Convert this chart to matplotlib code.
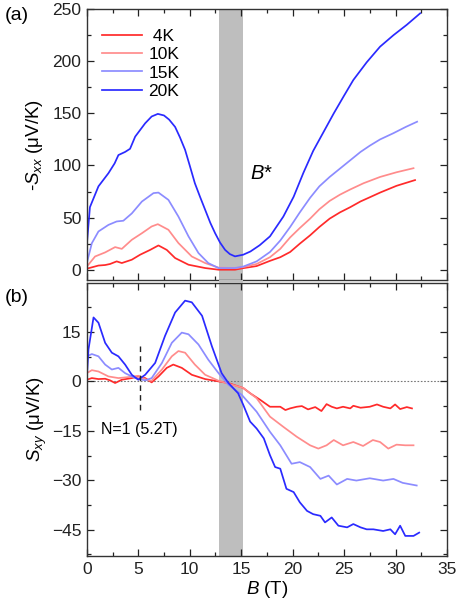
import matplotlib as mpl
mpl.use('Agg')
import matplotlib.pyplot as plt
from matplotlib.patches import Rectangle
from matplotlib.ticker import MultipleLocator

plt.rcParams['font.family'] = ['Liberation Sans', 'DejaVu Sans']
plt.rcParams['mathtext.fontset'] = 'custom'
plt.rcParams['mathtext.rm'] = 'Liberation Sans'
plt.rcParams['mathtext.it'] = 'Liberation Sans:italic'

labels = [' 4K', '10K', '15K', '20K']
colors = ['#ff2a2a', '#ff8c8c', '#8c8cff', '#2a2aff']

# (a) -Sxx
b_xx_4 = [0, 1.13, 1.78, 2.26, 2.9, 3.4, 4.37, 5.18, 6.15, 6.96, 7.77, 8.58, 9.88, 11.5, 12.8, 14.4,
          15.2, 16.5, 17.8, 18.8, 19.76, 20.7, 21.7, 22.6, 23.6, 24.6, 25.6, 26.6, 27.5, 28.5, 30.1, 31.9]
sxx_4 = [1, 4, 4.5, 5.5, 8, 6.4, 9.6, 14.4, 19, 23.3, 19, 11.2, 4.8, 1.6, 0, 0,
         1.5, 3.5, 8.5, 12, 17, 25, 33, 41, 49, 55, 60, 65.5, 69.5, 74, 80.5, 86]
b_xx_10 = [0, 0.8, 1.78, 2.75, 3.4, 4.37, 5.35, 6.3, 6.9, 7.93, 8.9, 10.2, 11.5, 12.8, 14.4,
           15.2, 16.5, 17.8, 18.8, 19.76, 20.7, 21.7, 22.6, 23.6, 24.6, 25.6, 26.9, 28.5, 30.1, 31.75]
sxx_10 = [3, 12.7, 16.6, 21.7, 20, 28.7, 35, 41.5, 43.7, 38.3, 25.6, 12.7, 6.4, 2, 1.6,
          2.5, 5.5, 12, 20, 31, 40, 49, 58, 66, 72, 77, 83, 89, 93.5, 97.4]
b_xx_15 = [0, 0.49, 1.13, 2.1, 2.9, 3.55, 4.37, 5.35, 6.48, 6.96, 7.93, 8.9, 9.88, 10.85, 11.8, 12.8, 14.4,
           15.2, 16.5, 17.8, 18.8, 19.76, 20.7, 21.7, 22.6, 23.6, 24.6, 25.6, 26.6, 27.5, 28.5, 29.8,
           31.0, 32.1]
sxx_15 = [6.4, 25.5, 36.7, 43, 46.3, 47, 54, 65.4, 73.5, 74, 67, 51, 32, 16, 6.4, 1.6, 1.6,
          3, 8, 17, 28, 41, 55, 69, 80, 89, 97, 105, 113, 119, 125, 131,
          137, 142]
b_xx_20 = [0, 0.3, 1.13, 2.1, 2.7, 3.07, 3.72, 4.2, 4.7, 5.67, 6.3, 6.9, 7.5, 8.0, 8.58, 9.05, 9.55,
           10.0, 10.5, 11.0, 11.5, 12.0, 12.47, 12.95, 13.44, 13.9, 14.4, 15.2, 15.9, 16.8, 17.8,
           19.1, 20.1, 21.05, 22.0, 23.0, 24.0, 25.0, 25.9, 27.2, 28.5, 29.8, 31.1, 32.4]
sxx_20 = [24, 60, 80, 92.6, 102, 110, 113, 116, 127.7, 140.5, 147, 149.5, 148, 144, 137, 127, 115,
          100, 83, 70, 57.5, 45, 35, 26, 19, 15, 12.8, 14.4, 17.5, 23.5, 32,
          51, 70, 93, 114, 132, 150, 167, 182, 199, 214, 225, 235, 246]

# (b) Sxy
b_xy_4 = [0, 0.49, 1.13, 1.78, 2.26, 2.75, 3.4, 4.37, 5.0, 5.67, 6.3, 6.97, 7.77, 8.4, 9.23, 10.2, 11.5,
          12.8, 13.76, 14.7, 15.2, 15.87, 16.85, 17.8, 18.8, 19.3, 19.75, 20.4, 20.9, 21.5, 22.2, 22.8,
          23.3, 23.8, 24.3, 24.9, 25.6, 25.9, 26.6, 27.5, 28.2, 28.8, 29.5, 29.96, 30.45, 31.1, 31.6]
sxy_4 = [0.5, 1, 0.7, 0.8, 0.3, -0.5, 0.5, 1, 1.5, 1, -0.3, 1.5, 4.1, 5.1, 4.1, 2, 0.7,
         0, -0.5, -1.5, -2, -3.6, -5.6, -7.7, -7.7, -8.7, -8.2, -7.7, -7.5, -8.5, -7.8, -9.0,
         -6.9, -7.7, -8.2, -7.7, -8.2, -7.4, -8.0, -7.7, -7.0, -7.7, -8.2, -7.0, -8.4, -7.8, -8.2]
b_xy_10 = [0, 0.49, 1.13, 2.1, 3.07, 4.05, 5.0, 5.8, 6.3, 7.3, 8.26, 8.9, 9.55, 10.5, 11.5, 12.8, 14.1,
           15.2, 16.5, 17.8, 19.1, 20.4, 21.7, 22.5, 23.3, 24.0, 24.9, 25.9, 26.85, 27.8, 28.5, 29.3,
           30.1, 30.95, 31.75]
sxy_10 = [2.5, 3.4, 3, 1.5, 1, 1.3, 1.7, 0.5, 0.2, 3.6, 7.6, 9.2, 8.7, 5.1, 2, 0.2, -1,
          -2, -5.1, -10.7, -13.8, -16.8, -19.4, -20.4, -19.4, -17.8, -19.4, -18.4, -19.6, -17.8, -18.4, -20.4,
          -19.2, -19.4, -19.4]
b_xy_15 = [0, 0.49, 1.13, 1.78, 2.43, 3.07, 3.72, 4.7, 5.67, 6.3, 7.3, 8.26, 9.23, 9.88, 10.85, 11.8,
           12.8, 13.76, 15.06, 16.5, 17.8, 18.8, 19.9, 20.7, 21.7, 22.7, 23.5, 24.3, 25.3, 26.2,
           27.5, 28.8, 29.8, 30.7, 32.06]
sxy_15 = [7.6, 8.3, 7.6, 5.1, 3.6, 4.1, 2.5, 1, 0.3, 1, 5.6, 11.7, 14.8, 14.3, 11.2, 6.6,
          2.5, -1, -4.1, -9.2, -15.3, -19.4, -25, -24.5, -26, -29.6, -28.6, -31.3, -29.6, -30.1,
          -29.4, -30.1, -29.6, -30.8, -31.6]
b_xy_20 = [0, 0.16, 0.65, 1.13, 1.78, 2.43, 3.07, 3.72, 4.37, 5.0, 5.67, 6.64, 7.6, 8.58, 9.55, 10.2,
           11.2, 12.15, 13.1, 13.76, 14.7, 15.2, 15.87, 16.5, 17.2, 17.8, 18.3, 18.8, 19.4, 20.1, 20.7,
           21.4, 22.0, 22.7, 23.15, 23.8, 24.45, 25.3, 25.9, 26.6, 27.2, 27.85, 28.8, 29.5, 29.96,
           30.45, 30.95, 31.75, 32.3]
sxy_20 = [1, 9.7, 19.4, 17.8, 11.7, 8.7, 7.6, 5.1, 2, 0.5, 2, 5.6, 13.8, 20.9, 24.5, 24,
          19.9, 10.7, 2.5, -0.5, -3.6, -7.1, -12.2, -14.3, -17.3, -22.4, -26, -26.5, -32.6, -33.6, -36.7,
          -39.3, -40.3, -40.8, -42.8, -41.3, -43.8, -44.3, -43.3, -44.3, -44.9, -44.9, -45.4, -44.9, -46.4,
          -43.8, -46.9, -46.9, -45.9]

band = (12.85, 15.2)
band_color = '#bebebe'

fig = plt.figure(figsize=(4.57, 6.09), dpi=100)
ax1 = fig.add_axes([0.190, 0.540, 0.788, 0.445])
ax2 = fig.add_axes([0.190, 0.087, 0.788, 0.448])

xx = [(b_xx_4, sxx_4), (b_xx_10, sxx_10), (b_xx_15, sxx_15), (b_xx_20, sxx_20)]
xy = [(b_xy_4, sxy_4), (b_xy_10, sxy_10), (b_xy_15, sxy_15), (b_xy_20, sxy_20)]

for (b, s), c, lab in zip(xx, colors, labels):
    ax1.plot(b, s, color=c, lw=1.25, label=lab)
for (b, s), c in zip(xy, colors):
    ax2.plot(b, s, color=c, lw=1.25)

for ax in (ax1, ax2):
    ax.axvspan(band[0], band[1], color=band_color, lw=0, zorder=0)
    ax.set_xlim(0, 35)
    ax.xaxis.set_major_locator(MultipleLocator(5))
    ax.xaxis.set_minor_locator(MultipleLocator(2.5))
    ax.tick_params(which='both', direction='in', top=True, right=True, labelsize=12.5,
                   colors='#222222', pad=4)
    ax.tick_params(which='major', length=5, width=0.9)
    ax.tick_params(which='minor', length=3, width=0.9)
    for sp in ax.spines.values():
        sp.set_color('#333333')
        sp.set_linewidth(1.0)

# bridge the band across the gap between the panels
p1, p2 = ax1.get_position(), ax2.get_position()
fx0 = p1.x0 + p1.width * band[0] / 35
fx1 = p1.x0 + p1.width * band[1] / 35
fig.patches.append(Rectangle((fx0, p2.y1), fx1 - fx0, p1.y0 - p2.y1, transform=fig.transFigure,
                             color=band_color, lw=0, zorder=0))

ax1.set_ylim(-10, 250)
ax1.yaxis.set_major_locator(MultipleLocator(50))
ax1.yaxis.set_minor_locator(MultipleLocator(25))
ax1.tick_params(labelbottom=False)
ax1.set_ylabel(r'-$S_{xx}$ (μV/K)', fontsize=13.5, labelpad=5)
ax1.text(15.9, 92, r'$B$*', fontsize=14.5, va='center')
ax1.legend(loc='upper left', bbox_to_anchor=(0.0, 0.985), frameon=False, fontsize=12.5,
           handlelength=2.3, handletextpad=0.35, labelspacing=0.18)

ax2.set_ylim(-53, 29.8)
ax2.yaxis.set_major_locator(MultipleLocator(15))
ax2.yaxis.set_minor_locator(MultipleLocator(7.5))
ax2.axhline(0, color='#777777', lw=0.8, ls=(0, (1.5, 1.5)), zorder=1)
ax2.plot([5.2, 5.2], [10.7, -10], color='#222222', lw=1.0, ls=(0, (4, 3)))
ax2.text(1.4, -14.5, 'N=1 (5.2T)', fontsize=11.5, va='center')
ax2.set_ylabel(r'$S_{xy}$ (μV/K)', fontsize=13.5, labelpad=2)
ax2.set_xlabel(r'$B$ (T)', fontsize=13.5, labelpad=2)

fig.text(0.01, 0.975, '(a)', fontsize=14, va='center')
fig.text(0.01, 0.512, '(b)', fontsize=14, va='center')

fig.savefig('out.png', dpi=100)
